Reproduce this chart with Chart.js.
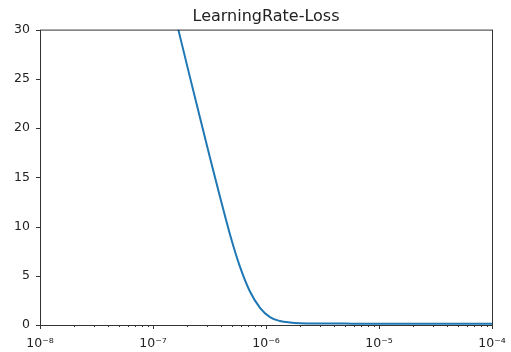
<!DOCTYPE html>
<html>
<head>
<meta charset="utf-8">
<title>LearningRate-Loss</title>
<script src="https://cdn.jsdelivr.net/npm/chart.js@4/dist/chart.umd.min.js"></script>
<style>
    html, body { margin: 0; padding: 0; background: #fff; }
    #wrap { width: 511px; height: 352px; }
</style>
</head>
<body>
<div id="wrap"><canvas id="lrChart" width="511" height="352"></canvas></div>
<script>
// learning rate sweep and the loss seen at each rate
const learningRates = [1.675e-7, 2.12e-7, 2.60e-7, 3.19e-7, 3.92e-7, 4.80e-7, 5.89e-7,
    7.21e-7, 8.85e-7, 1.084e-6, 1.33e-6, 1.63e-6, 2.0e-6, 3.0e-6, 5.0e-6,
    1.0e-5, 3.0e-5, 1.0e-4];
const lossValues = [30, 25.2, 21.1, 17.0, 13.0, 9.2, 5.9,
    3.4, 1.75, 0.8, 0.4, 0.25, 0.18, 0.15, 0.14,
    0.13, 0.13, 0.13];

const xTickValues = [1e-8, 1e-7, 1e-6, 1e-5, 1e-4];
const xTickLabels = ['10\u207B\u2078', '10\u207B\u2077', '10\u207B\u2076', '10\u207B\u2075', '10\u207B\u2074'];
const yTickValues = [0, 5, 10, 15, 20, 25, 30];

const points = learningRates.map((lr, i) => ({ x: lr, y: lossValues[i] }));

// every 1..9 x 10^n step between the outer decades, for the minor marks
const xAllTicks = [];
for (let d = 0; d < xTickValues.length - 1; d++) {
    for (let k = 1; k < 10; k++) xAllTicks.push(k * xTickValues[d]);
}
xAllTicks.push(xTickValues[xTickValues.length - 1]);

const isDecade = v => xTickValues.some(t => Math.abs(v - t) / t < 1e-6);

// frame around the plot plus outward tick marks
const axesFrame = {
    id: 'axesFrame',
    afterDatasetsDraw(chart) {
        const { ctx, chartArea: a, scales } = chart;
        ctx.save();
        ctx.strokeStyle = '#333';
        ctx.lineWidth = 1;
        ctx.strokeRect(a.left + 0.5, a.top + 0.5, a.right - a.left, a.bottom - a.top);

        ctx.beginPath();
        xAllTicks.forEach(v => {
            const px = Math.round(scales.x.getPixelForValue(v)) + 0.5;
            const len = isDecade(v) ? 4 : 2;
            ctx.moveTo(px, a.bottom);
            ctx.lineTo(px, a.bottom + len);
        });
        yTickValues.forEach(v => {
            const py = Math.round(scales.y.getPixelForValue(v)) + 0.5;
            ctx.moveTo(a.left, py);
            ctx.lineTo(a.left - 4, py);
        });
        ctx.stroke();
        ctx.restore();
    }
};

new Chart(document.getElementById('lrChart'), {
    type: 'scatter',
    data: {
        datasets: [{
            data: points,
            showLine: true,
            borderColor: '#1f77b4',
            borderWidth: 2,
            pointRadius: 0,
            cubicInterpolationMode: 'monotone',
            fill: false
        }]
    },
    options: {
        responsive: false,
        animation: false,
        layout: { padding: { left: 0, right: 19, top: 0, bottom: 0 } },
        plugins: {
            legend: { display: false },
            tooltip: { enabled: false },
            title: {
                display: true,
                text: 'LearningRate-Loss',
                fullSize: false,
                color: '#222',
                font: { family: 'DejaVu Sans', size: 16, weight: 'normal', lineHeight: 1.1 },
                padding: { top: 8, bottom: 4 }
            }
        },
        scales: {
            x: {
                type: 'logarithmic',
                min: 1e-8,
                max: 1e-4,
                grid: { display: false, drawTicks: false },
                border: { display: false },
                afterBuildTicks(scale) {
                    scale.ticks = xTickValues.map(v => ({ value: v }));
                },
                afterFit(scale) {
                    scale.height = 27;
                    scale.paddingLeft = 0;
                    scale.paddingRight = 0;
                },
                ticks: {
                    autoSkip: false,
                    maxRotation: 0,
                    padding: 11,
                    color: '#222',
                    font: { family: 'DejaVu Sans', size: 12.5 },
                    callback: function (value) {
                        const i = xTickValues.findIndex(t => Math.abs(value - t) / t < 1e-6);
                        return i >= 0 ? xTickLabels[i] : '';
                    }
                }
            },
            y: {
                min: 0,
                max: 30,
                grid: { display: false, drawTicks: false },
                border: { display: false },
                afterBuildTicks(scale) {
                    scale.ticks = yTickValues.map(v => ({ value: v }));
                },
                afterFit(scale) {
                    scale.width = 40;
                    scale.paddingTop = 0;
                    scale.paddingBottom = 0;
                },
                ticks: {
                    padding: 10,
                    color: '#222',
                    font: { family: 'DejaVu Sans', size: 12.5 }
                }
            }
        }
    },
    plugins: [axesFrame]
});
</script>
</body>
</html>
